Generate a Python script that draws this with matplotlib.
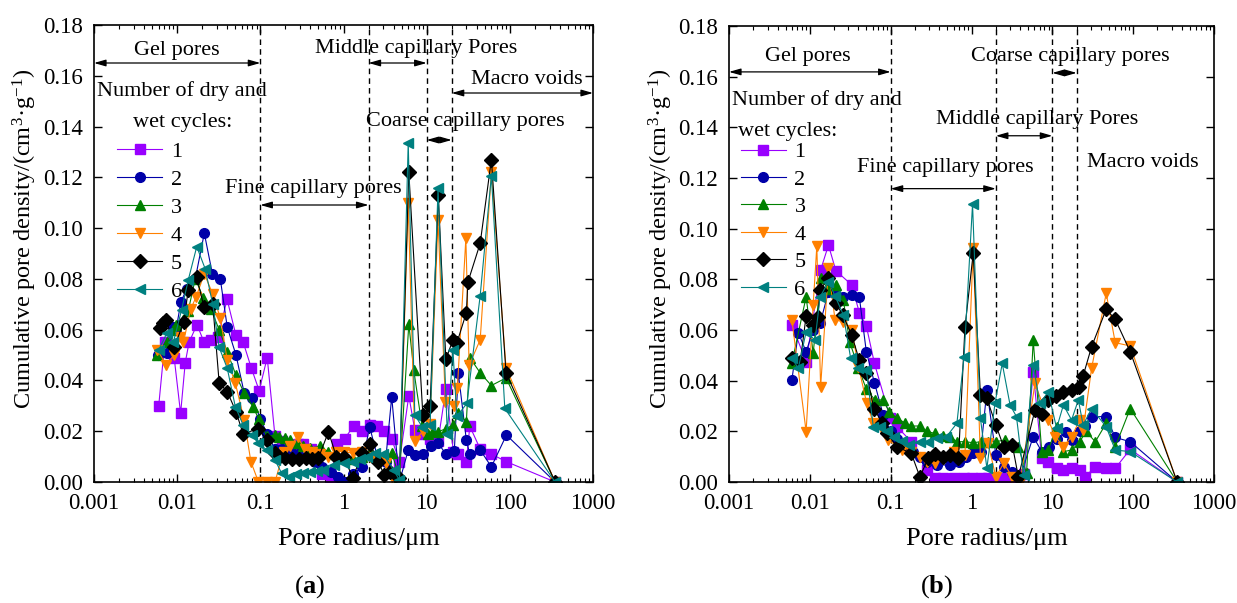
import matplotlib
matplotlib.use("Agg")
import matplotlib.pyplot as plt
from matplotlib.ticker import FixedLocator, FixedFormatter, LogLocator, NullFormatter

plt.rcParams["font.family"] = ["Liberation Serif", "DejaVu Serif"]
plt.rcParams["mathtext.fontset"] = "custom"
plt.rcParams["mathtext.rm"] = "Liberation Serif"
plt.rcParams["mathtext.it"] = "Liberation Serif:italic"
plt.rcParams["mathtext.bf"] = "Liberation Serif:bold"

# ---------------- data (a) ----------------
a1_x = [0.006, 0.0071, 0.0092, 0.011, 0.0125, 0.0139, 0.0173, 0.0211, 0.0256, 0.031, 0.0398, 0.0507,
        0.0623, 0.0777, 0.0968, 0.121, 0.15, 0.18, 0.23, 0.28, 0.33, 0.41, 0.48, 0.55, 0.7, 0.83, 1.03,
        1.32, 1.66, 2.1, 2.5, 3.1, 3.8, 4.7, 6.1, 7.2, 8.8, 11, 13.7, 17, 21, 24, 30, 33, 44, 60, 91, 350]
a1_y = [0.030, 0.055, 0.049, 0.027, 0.047, 0.055, 0.062, 0.055, 0.056, 0.057, 0.072, 0.058,
        0.055, 0.045, 0.036, 0.049, 0.018, 0.016, 0.014, 0.015, 0.015, 0.013, 0.010, 0.003, 0.0, 0.015, 0.017,
        0.022, 0.020, 0.0225, 0.022, 0.020, 0.017, 0.008, 0.034, 0.0205, 0.019, 0.017, 0.016, 0.0365, 0.012,
        0.011, 0.008, 0.022, 0.013, 0.011, 0.008, 0.0]

a2_x = [0.0059, 0.0075, 0.009, 0.0097, 0.0111, 0.013, 0.0165, 0.0212, 0.0265, 0.033, 0.04, 0.051, 0.064,
        0.08, 0.1, 0.12, 0.15, 0.18, 0.23, 0.28, 0.35, 0.45, 0.55, 0.7, 0.85, 1.03, 1.3, 1.66, 2.06, 2.6,
        3.2, 3.8, 4.7, 6.0, 7.2, 9, 11.4, 13.7, 17, 21.5, 24, 30, 33, 44, 60, 91, 350]
a2_y = [0.050, 0.051, 0.061, 0.060, 0.071, 0.076, 0.080, 0.098, 0.082, 0.080, 0.061, 0.050, 0.035,
        0.033, 0.025, 0.019, 0.013, 0.013, 0.0126, 0.011, 0.010, 0.008, 0.006, 0.004, 0.002, 0.0, 0.003,
        0.006, 0.0218, 0.009, 0.008, 0.0335, 0.0, 0.0126, 0.0106, 0.011, 0.014, 0.0154, 0.011, 0.0123,
        0.043, 0.0165, 0.011, 0.0126, 0.006, 0.0185, 0.0]

a3_x = [0.0057, 0.0075, 0.009, 0.0097, 0.0119, 0.0136, 0.0165, 0.0207, 0.0255, 0.032, 0.04, 0.051, 0.064,
        0.081, 0.096, 0.12, 0.15, 0.17, 0.2, 0.23, 0.28, 0.33, 0.4, 0.52, 0.65, 0.8, 1.0, 1.3, 1.65, 2.1,
        2.6, 3.2, 3.8, 4.7, 6.1, 7.0, 8.8, 10.5, 12, 13.8, 17, 21, 24, 30, 33, 44, 60, 90, 350]
a3_y = [0.050, 0.055, 0.060, 0.062, 0.064, 0.0675, 0.080, 0.0725, 0.068, 0.060, 0.0513, 0.042, 0.035,
        0.0297, 0.0248, 0.018, 0.0185, 0.0178, 0.0173, 0.0165, 0.0154, 0.014, 0.0134, 0.014, 0.012, 0.011,
        0.010, 0.009, 0.010, 0.012, 0.011, 0.010, 0.0114, 0.002, 0.0622, 0.044, 0.022, 0.019, 0.020, 0.0198,
        0.021, 0.0225, 0.027, 0.0238, 0.049, 0.043, 0.038, 0.041, 0.0]

a4_x = [0.0058, 0.0074, 0.0092, 0.0108, 0.0119, 0.0145, 0.0169, 0.0212, 0.0268, 0.033, 0.04, 0.05, 0.064,
        0.077, 0.095, 0.12, 0.15, 0.19, 0.23, 0.28, 0.34, 0.42, 0.52, 0.66, 0.82, 1.0, 1.3, 1.66, 2.1, 2.6,
        3.2, 3.8, 4.7, 6.0, 7.2, 9, 11, 13.7, 16.8, 21.5, 23.4, 29.6, 32.4, 44, 60, 90, 350]
a4_y = [0.052, 0.046, 0.050, 0.057, 0.055, 0.068, 0.0729, 0.082, 0.074, 0.0646, 0.048, 0.039, 0.0244,
        0.008, 0.0, 0.0, 0.0, 0.012, 0.014, 0.0178, 0.013, 0.012, 0.011, 0.010, 0.012, 0.012, 0.0113, 0.012,
        0.010, 0.0085, 0.0075, 0.002, 0.0, 0.1098, 0.016, 0.020, 0.023, 0.103, 0.0316, 0.030, 0.037, 0.096,
        0.046, 0.056, 0.122, 0.045, 0.0]

a5_x = [0.0062, 0.0067, 0.0074, 0.0092, 0.012, 0.0136, 0.0172, 0.021, 0.0268, 0.032, 0.04, 0.051, 0.062,
        0.095, 0.12, 0.15, 0.17, 0.2, 0.24, 0.29, 0.35, 0.42, 0.5, 0.66, 0.82, 1.0, 1.3, 1.66, 2.1, 2.6,
        3.1, 3.6, 4.7, 6.1, 9.0, 11, 13.8, 17, 20.7, 23, 30, 31.3, 44, 60, 90, 350]
a5_y = [0.0605, 0.0625, 0.064, 0.053, 0.063, 0.0757, 0.0806, 0.069, 0.070, 0.039, 0.0356, 0.0277, 0.019,
        0.021, 0.0165, 0.0113, 0.010, 0.0095, 0.009, 0.009, 0.0095, 0.009, 0.0095, 0.0198, 0.010, 0.010,
        0.0016, 0.0113, 0.015, 0.008, 0.0028, 0.004, 0.0016, 0.122, 0.0264, 0.030, 0.113, 0.0483, 0.056,
        0.0546, 0.0667, 0.0787, 0.094, 0.127, 0.043, 0.0]

a6_x = [0.006, 0.0075, 0.009, 0.0113, 0.0136, 0.0172, 0.0217, 0.0268, 0.032, 0.04, 0.05, 0.062, 0.079,
        0.095, 0.12, 0.15, 0.18, 0.22, 0.27, 0.33, 0.4, 0.48, 0.57, 0.76, 1.0, 1.3, 1.6, 1.9, 2.4, 3.0,
        4.0, 4.7, 6.0, 7.2, 8.8, 11, 13.7, 17.7, 20.7, 23, 30.5, 44, 60, 87, 350]
a6_y = [0.052, 0.0586, 0.055, 0.0678, 0.0796, 0.0927, 0.084, 0.070, 0.053, 0.0448, 0.0297, 0.0225, 0.0185,
        0.0152, 0.0126, 0.0087, 0.0035, 0.002, 0.003, 0.0035, 0.004, 0.0045, 0.0047, 0.0067, 0.0074, 0.008,
        0.009, 0.010, 0.0113, 0.011, 0.0047, 0.0008, 0.1337, 0.0264, 0.0218, 0.0225, 0.1157, 0.019, 0.052,
        0.0258, 0.031, 0.0734, 0.1206, 0.029, 0.0]

# ---------------- data (b) ----------------
b1_x = [0.006, 0.009, 0.0136, 0.017, 0.021, 0.033, 0.041, 0.05, 0.063, 0.099, 0.12, 0.18, 0.28, 0.35,
        0.45, 0.6, 0.8, 1.0, 1.3, 1.6, 2.0, 2.5, 3.2, 3.8, 4.5, 5.8, 7.4, 8.9, 11.3, 13.7, 17.3, 21.9, 25.3,
        34, 46.4, 60, 92, 350]
b1_y = [0.062, 0.0475, 0.0837, 0.0935, 0.0834, 0.0778, 0.0668, 0.0616, 0.0468, 0.0251, 0.0218, 0.0159,
        0.0047, 0.0015, 0.0015, 0.0015, 0.0015, 0.0015, 0.0015, 0.0015, 0.0015, 0.0015, 0.0015, 0.002,
        0.003, 0.0435, 0.0093, 0.008, 0.0054, 0.0047, 0.0054, 0.0047, 0.002, 0.006, 0.0054, 0.0054, 0.0129, 0.0]

b2_x = [0.006, 0.0072, 0.009, 0.011, 0.0134, 0.017, 0.021, 0.026, 0.033, 0.041, 0.05, 0.063, 0.081, 0.1,
        0.12, 0.15, 0.19, 0.23, 0.28, 0.37, 0.54, 0.7, 0.85, 1.05, 1.3, 1.55, 2.0, 2.5, 3.2, 4.0, 5.8, 7.4,
        9, 11.3, 14.6, 17.3, 21.9, 25, 30.6, 46.4, 60, 92, 350]
b2_y = [0.0403, 0.059, 0.0514, 0.060, 0.0626, 0.075, 0.074, 0.073, 0.0738, 0.0729, 0.0514, 0.0392, 0.0264,
        0.020, 0.017, 0.014, 0.012, 0.010, 0.008, 0.0067, 0.0067, 0.008, 0.010, 0.0113, 0.012, 0.0363,
        0.0107, 0.006, 0.004, 0.002, 0.0179, 0.012, 0.014, 0.017, 0.0198, 0.0166, 0.020, 0.022, 0.0258,
        0.0258, 0.0176, 0.0159, 0.0]

b3_x = [0.006, 0.009, 0.011, 0.0136, 0.017, 0.021, 0.026, 0.031, 0.04, 0.05, 0.064, 0.08, 0.096, 0.12,
        0.15, 0.18, 0.23, 0.28, 0.35, 0.44, 0.54, 0.66, 0.83, 1.05, 1.3, 1.6, 2.0, 2.6, 3.2, 3.8, 4.8, 5.8,
        7.4, 8.9, 11.3, 13.7, 17.3, 21.9, 26, 34, 46.4, 60, 92, 350]
b3_y = [0.047, 0.0731, 0.0508, 0.0804, 0.076, 0.0778, 0.0718, 0.0554, 0.045, 0.0366, 0.0324, 0.0324,
        0.0278, 0.0251, 0.0234, 0.0221, 0.0221, 0.020, 0.0192, 0.018, 0.0179, 0.0159, 0.0159, 0.0155,
        0.0159, 0.0159, 0.0159, 0.0166, 0.015, 0.0139, 0.0034, 0.056, 0.012, 0.0126, 0.0218, 0.012, 0.0126,
        0.0159, 0.020, 0.0159, 0.0232, 0.0139, 0.029, 0.0]

b4_x = [0.006, 0.009, 0.011, 0.0122, 0.0136, 0.017, 0.0205, 0.0255, 0.033, 0.04, 0.0506, 0.061, 0.075,
        0.094, 0.14, 0.18, 0.23, 0.28, 0.35, 0.45, 0.6, 0.83, 1.05, 1.29, 1.6, 2.0, 2.5, 3.2, 4.0, 6.1, 8.9,
        10.9, 13.7, 17.3, 21.9, 24, 30.6, 46.4, 60, 92, 350]
b4_y = [0.064, 0.0199, 0.0699, 0.0931, 0.0376, 0.0843, 0.064, 0.0633, 0.060, 0.0455, 0.031, 0.0234,
        0.0218, 0.0166, 0.0126, 0.012, 0.010, 0.008, 0.0074, 0.009, 0.012, 0.0107, 0.0922, 0.0093, 0.0153,
        0.002, 0.0074, 0.002, 0.0, 0.039, 0.0245, 0.0179, 0.014, 0.0179, 0.0245, 0.0205, 0.0449, 0.0745,
        0.055, 0.0537, 0.0]

b5_x = [0.006, 0.0076, 0.009, 0.011, 0.0125, 0.0134, 0.0169, 0.021, 0.0255, 0.033, 0.041, 0.05, 0.062,
        0.078, 0.09, 0.12, 0.18, 0.23, 0.29, 0.35, 0.45, 0.54, 0.69, 0.83, 1.05, 1.29, 1.55, 2.0, 2.5, 3.2,
        3.8, 6.1, 7.4, 8.9, 11, 13.7, 17.3, 21.5, 24, 30.6, 46.4, 60, 92, 350]
b5_y = [0.0488, 0.0475, 0.0655, 0.062, 0.065, 0.0758, 0.0804, 0.0705, 0.066, 0.058, 0.048, 0.043, 0.029,
        0.0234, 0.0192, 0.0139, 0.0113, 0.002, 0.0093, 0.011, 0.010, 0.0107, 0.0093, 0.061, 0.0903, 0.0343,
        0.033, 0.0225, 0.0139, 0.0146, 0.002, 0.0284, 0.027, 0.0324, 0.034, 0.0356, 0.0363, 0.0376, 0.0418,
        0.0534, 0.0682, 0.0642, 0.0514, 0.0]

b6_x = [0.006, 0.0072, 0.009, 0.0116, 0.0134, 0.017, 0.0205, 0.026, 0.032, 0.04, 0.05, 0.061, 0.074,
        0.09, 0.11, 0.14, 0.17, 0.23, 0.29, 0.37, 0.49, 0.66, 0.81, 1.03, 1.29, 1.55, 1.95, 2.4, 3.0, 3.6,
        4.4, 5.8, 7.0, 8.9, 11.3, 13.7, 17.3, 21, 24, 30.6, 46.4, 60, 92, 350]
b6_y = [0.0488, 0.0449, 0.0593, 0.056, 0.0731, 0.079, 0.0734, 0.066, 0.0488, 0.0449, 0.0442, 0.0218,
        0.0218, 0.020, 0.0179, 0.016, 0.0146, 0.0159, 0.0159, 0.0172, 0.0179, 0.0232, 0.0495, 0.1097, 0.0251,
        0.0054, 0.031, 0.0468, 0.0304, 0.0258, 0.0028, 0.0462, 0.031, 0.0356, 0.0212, 0.0304, 0.0245, 0.0324,
        0.0225, 0.029, 0.0218, 0.0126, 0.012, 0.0]

cycle_labels = ["1", "2", "3", "4", "5", "6"]
colors = ["#9900ff", "#0000a8", "#008000", "#ff8000", "#000000", "#008080"]
markers = ["s", "o", "^", "v", "D", "<"]
marker_sizes = [6.5, 7.0, 7.5, 7.5, 7.5, 7.5]
boundaries = [0.1, 2, 10, 20]
xticks = [0.001, 0.01, 0.1, 1, 10, 100, 1000]
xtick_labels = ["0.001", "0.01", "0.1", "1", "10", "100", "1000"]
yticks = [0.00, 0.02, 0.04, 0.06, 0.08, 0.10, 0.12, 0.14, 0.16, 0.18]

fig = plt.figure(figsize=(12.37, 6.03), dpi=100)
ax_a = fig.add_axes([94 / 1237, 1 - 482 / 603, 499 / 1237, 457 / 603])
ax_b = fig.add_axes([729 / 1237, 1 - 482 / 603, 485 / 1237, 456 / 603])

series_a = [(a1_x, a1_y), (a2_x, a2_y), (a3_x, a3_y), (a4_x, a4_y), (a5_x, a5_y), (a6_x, a6_y)]
series_b = [(b1_x, b1_y), (b2_x, b2_y), (b3_x, b3_y), (b4_x, b4_y), (b5_x, b5_y), (b6_x, b6_y)]


def draw_panel(ax, series):
    for (x, y), c, m, ms, lab in zip(series, colors, markers, marker_sizes, cycle_labels):
        ax.plot(x, y, color=c, lw=0.8, marker=m, ms=ms, mfc=c, mec=c, label=lab)
    for b in boundaries:
        ax.axvline(b, color="black", ls=(0, (4, 3)), lw=1.0, zorder=0)
    ax.set_xscale("log")
    ax.set_xlim(0.001, 1000)
    ax.set_ylim(0, 0.18)
    ax.xaxis.set_major_locator(FixedLocator(xticks))
    ax.xaxis.set_major_formatter(FixedFormatter(xtick_labels))
    ax.xaxis.set_minor_locator(LogLocator(base=10, subs=range(2, 10), numticks=20))
    ax.xaxis.set_minor_formatter(NullFormatter())
    ax.set_yticks(yticks)
    ax.set_yticklabels([f"{v:.2f}" for v in yticks])
    ax.tick_params(which="both", direction="in", top=True, right=True, labelsize=16.5)
    ax.tick_params(which="major", length=6, width=1)
    ax.tick_params(which="minor", length=3, width=0.8)
    ax.tick_params(axis="x", which="major", pad=8)
    ax.tick_params(axis="y", which="major", pad=8)
    for s in ax.spines.values():
        s.set_linewidth(1.2)
    ax.set_xlabel("Pore radius/μm", fontsize=19)
    ax.set_ylabel(r"Cumulative pore density/(cm$^{3}$·g$^{-1}$)", fontsize=17.5)
    ax.xaxis.set_label_coords(0.531, -0.101)


def span(ax, x0, x1, y):
    ax.annotate("", xy=(x1, y), xytext=(x0, y),
                arrowprops=dict(arrowstyle="<|-|>,head_length=0.7,head_width=0.2",
                                color="black", lw=0.9, shrinkA=0, shrinkB=0))


def pix_y(py):
    return (482 - py) / 457 * 0.18


draw_panel(ax_a, series_a)
draw_panel(ax_b, series_b)
ax_a.yaxis.set_label_coords(-0.11, 0.532)
ax_b.yaxis.set_label_coords(-0.112, 0.532)

fs = 16
# panel (a) annotations
span(ax_a, 0.001, 0.1, pix_y(63))
ax_a.text(0.01, pix_y(50), "Gel pores", fontsize=fs, ha="center", va="center")
span(ax_a, 2, 10, pix_y(63))
ax_a.text(10 ** 0.875, pix_y(48), "Middle capillary Pores", fontsize=fs, ha="center", va="center")
span(ax_a, 20, 1000, pix_y(93))
ax_a.text(10 ** 2.2, pix_y(80), "Macro voids", fontsize=fs, ha="center", va="center")
span(ax_a, 10, 20, pix_y(140))
ax_a.text(10 ** 1.47, pix_y(121), "Coarse capillary pores", fontsize=fs, ha="center", va="center")
span(ax_a, 0.1, 2, pix_y(205))
ax_a.text(10 ** -0.36, pix_y(188), "Fine capillary pores", fontsize=fs, ha="center", va="center")
ax_a.text(10 ** -1.94, pix_y(91), "Number of dry and", fontsize=fs, ha="center", va="center")
ax_a.text(10 ** -1.94, pix_y(123), "wet cycles:", fontsize=fs, ha="center", va="center")
ax_a.legend(loc="upper left", bbox_to_anchor=(0.047, 0.745), frameon=False, fontsize=fs,
            handlelength=2.0, handletextpad=0.4, labelspacing=0.33, borderpad=0, borderaxespad=0)

# panel (b) annotations
span(ax_b, 0.001, 0.1, pix_y(71))
ax_b.text(0.0095, pix_y(56), "Gel pores", fontsize=fs, ha="center", va="center")
span(ax_b, 10, 20, pix_y(72))
ax_b.text(10 ** 1.22, pix_y(56), "Coarse capillary pores", fontsize=fs, ha="center", va="center")
ax_b.text(10 ** -1.91, pix_y(99), "Number of dry and", fontsize=fs, ha="center", va="center")
ax_b.text(10 ** -2.28, pix_y(131), "wet cycles:", fontsize=fs, ha="center", va="center")
span(ax_b, 2, 10, pix_y(135))
ax_b.text(10 ** 0.81, pix_y(119), "Middle capillary Pores", fontsize=fs, ha="center", va="center")
span(ax_b, 0.1, 2, pix_y(188))
ax_b.text(10 ** -0.32, pix_y(167), "Fine capillary pores", fontsize=fs, ha="center", va="center")
span(ax_b, 20, 1100, pix_y(180))
ax_b.text(10 ** 2.12, pix_y(162), "Macro voids", fontsize=fs, ha="center", va="center")
ax_b.legend(loc="upper left", bbox_to_anchor=(0.025, 0.746), frameon=False, fontsize=fs,
            handlelength=2.0, handletextpad=0.4, labelspacing=0.31, borderpad=0, borderaxespad=0)
for t in ax_b.texts + ax_a.texts:
    t.set_clip_on(False)

fig.text(310 / 1237, 1 - 587 / 603, r"($\mathbf{a}$)", fontsize=19, ha="center", va="center")
fig.text(937 / 1237, 1 - 587 / 603, r"($\mathbf{b}$)", fontsize=19, ha="center", va="center")

fig.savefig("out.png", dpi=100)
